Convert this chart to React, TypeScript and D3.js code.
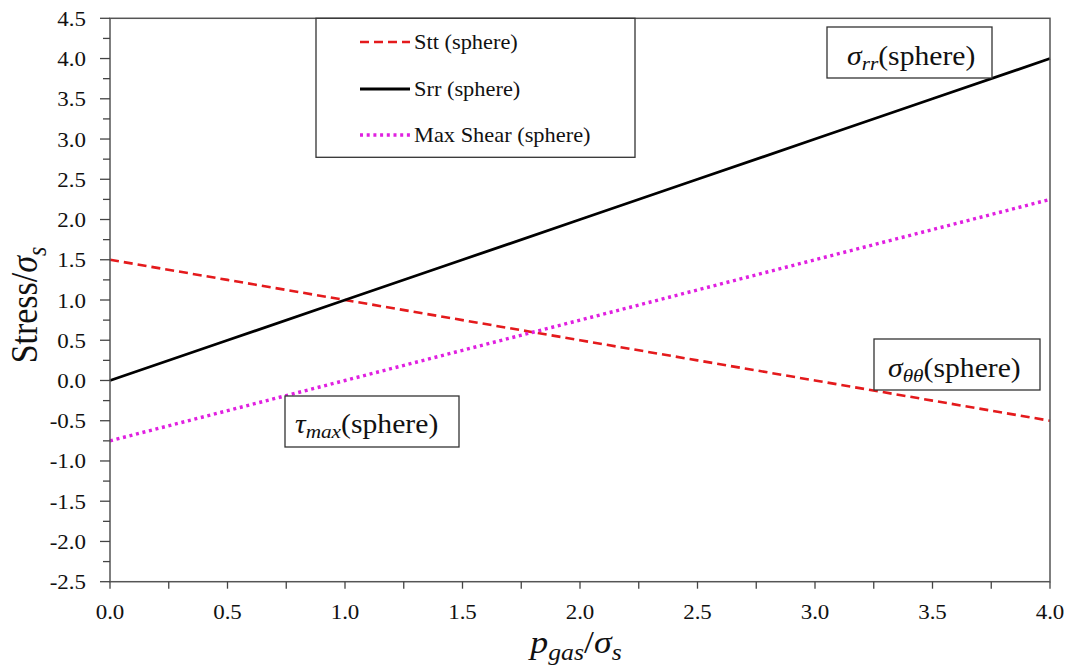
import React from "react";
import * as d3 from "d3";

const pgas = [0, 0.5, 1.0, 1.5, 2.0, 2.5, 3.0, 3.5, 4.0];
const sttSphere = [1.5, 1.25, 1.0, 0.75, 0.5, 0.25, 0.0, -0.25, -0.5];
const srrSphere = [0.0, 0.5, 1.0, 1.5, 2.0, 2.5, 3.0, 3.5, 4.0];
const maxShearSphere = [-0.75, -0.375, 0.0, 0.375, 0.75, 1.125, 1.5, 1.875, 2.25];

const xTicks = [0, 0.5, 1.0, 1.5, 2.0, 2.5, 3.0, 3.5, 4.0];
const yTicks = [4.5, 4.0, 3.5, 3.0, 2.5, 2.0, 1.5, 1.0, 0.5, 0.0, -0.5, -1.0, -1.5, -2.0, -2.5];
const legendLabels = ["Stt (sphere)", "Srr (sphere)", "Max Shear (sphere)"];

const W = 1069;
const H = 665;
const L = 110, R = 1050, T = 18.3, B = 581.7;
const FONT = "'Liberation Serif', 'Times New Roman', serif";
const SX = 1.12;

export default function App() {
  const x = d3.scaleLinear().domain([0, 4]).range([L, R]);
  const y = d3.scaleLinear().domain([-2.5, 4.5]).range([B, T]);
  const line = d3
    .line<number>()
    .x((_, i) => x(pgas[i]))
    .y((d) => y(d));

  const xMinor = d3.range(0, 4.001, 0.25);
  const yMinor = d3.range(-2.5, 4.501, 0.25);

  const series = [
    { vals: sttSphere, color: "#e41a1c", width: 2.6, dash: "9,5" },
    { vals: srrSphere, color: "#000000", width: 2.8, dash: "" },
    { vals: maxShearSphere, color: "#e020e0", width: 3.4, dash: "3,3.7" },
  ];

  const T_ = (tx: number, ty: number) => `translate(${tx},${ty}) scale(${SX},1)`;

  return (
    <svg width={W} height={H} style={{ position: "absolute", left: 0, top: 0, background: "#fff" }}>
      <rect x={0} y={0} width={W} height={H} fill="#fff" />
      {/* series */}
      <g>
        {series.map((s, i) => (
          <path
            key={i}
            d={line(s.vals) || ""}
            fill="none"
            stroke={s.color}
            strokeWidth={s.width}
            strokeDasharray={s.dash || undefined}
          />
        ))}
      </g>
      {/* frame */}
      <rect x={L} y={T} width={R - L} height={B - T} fill="none" stroke="#555" strokeWidth={1.5} />
      {/* y ticks */}
      {yMinor.map((v, i) => {
        const major = Math.abs(v * 2 - Math.round(v * 2)) < 1e-6;
        return (
          <line key={"yt" + i} x1={major ? L - 10 : L - 7} x2={L} y1={y(v)} y2={y(v)} stroke="#444" strokeWidth={1.3} />
        );
      })}
      {xMinor.map((v, i) => (
        <line key={"xt" + i} x1={x(v)} x2={x(v)} y1={B} y2={B + 7} stroke="#444" strokeWidth={1.3} />
      ))}
      {/* tick labels */}
      {yTicks.map((v, i) => (
        <text key={"yl" + i} transform={T_(86, y(v) + 7.5)} textAnchor="end" fontFamily={FONT} fontSize={20.5} fill="#111">
          {v.toFixed(1)}
        </text>
      ))}
      {xTicks.map((v, i) => (
        <text key={"xl" + i} transform={T_(x(v), 619)} textAnchor="middle" fontFamily={FONT} fontSize={20.5} fill="#111">
          {v.toFixed(1)}
        </text>
      ))}
      {/* axis titles */}
      <text transform={`translate(37,305) rotate(-90) scale(1,${SX})`} textAnchor="middle" fontFamily={FONT} fontSize={34} fill="#111">
        Stress/<tspan fontStyle="italic">σ</tspan>
        <tspan fontStyle="italic" fontSize={24} dy={8}>s</tspan>
      </text>
      <text transform={T_(576, 653)} textAnchor="middle" fontFamily={FONT} fontSize={32} fill="#111">
        <tspan fontStyle="italic">p</tspan>
        <tspan fontStyle="italic" fontSize={23} dy={7}>gas</tspan>
        <tspan dy={-7}>/</tspan>
        <tspan fontStyle="italic">σ</tspan>
        <tspan fontStyle="italic" fontSize={23} dy={7}>s</tspan>
      </text>
      {/* legend */}
      <rect x={316} y={T} width={319} height={139} fill="#fff" stroke="#333" strokeWidth={1.3} />
      {legendLabels.map((lab, i) => {
        const ly = [42, 89, 135][i];
        const s = series[i];
        return (
          <g key={"lg" + i}>
            <line x1={360} x2={410} y1={ly} y2={ly} stroke={s.color} strokeWidth={s.width} strokeDasharray={s.dash || undefined} />
            <text transform={T_(414, ly + 7)} fontFamily={FONT} fontSize={20} fill="#111">
              {lab}
            </text>
          </g>
        );
      })}
      {/* annotations */}
      <rect x={827} y={27} width={165} height={51} fill="#fff" stroke="#333" strokeWidth={1.3} />
      <text transform={T_(847, 65)} fontFamily={FONT} fontSize={26.5} fill="#111">
        <tspan fontStyle="italic">σ</tspan>
        <tspan fontStyle="italic" fontSize={19} dy={5}>rr</tspan>
        <tspan dy={-5}>(sphere)</tspan>
      </text>
      <rect x={874} y={339} width={166} height={51} fill="#fff" stroke="#333" strokeWidth={1.3} />
      <text transform={T_(888, 377)} fontFamily={FONT} fontSize={26.5} fill="#111">
        <tspan fontStyle="italic">σ</tspan>
        <tspan fontStyle="italic" fontSize={19} dy={5}>θθ</tspan>
        <tspan dy={-5}>(sphere)</tspan>
      </text>
      <rect x={285} y={396} width={174} height={51} fill="#fff" stroke="#333" strokeWidth={1.3} />
      <text transform={T_(295, 433)} fontFamily={FONT} fontSize={26.5} fill="#111">
        <tspan fontStyle="italic">τ</tspan>
        <tspan fontStyle="italic" fontSize={19} dy={5}>max</tspan>
        <tspan dy={-5}>(sphere)</tspan>
      </text>
    </svg>
  );
}
